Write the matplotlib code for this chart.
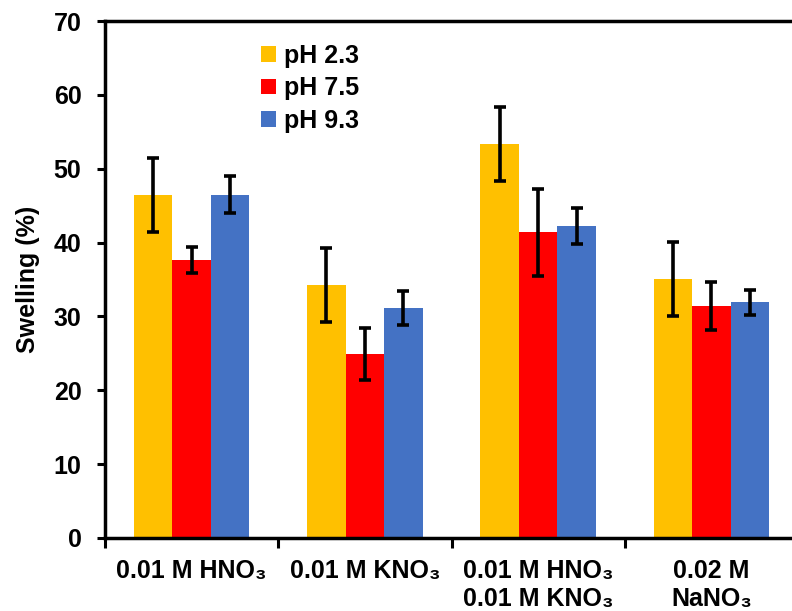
import matplotlib
matplotlib.use("Agg")
import matplotlib.pyplot as plt
import numpy as np

plt.rcParams['font.family'] = ['Liberation Sans', 'DejaVu Sans']
plt.rcParams['font.weight'] = 'bold'

categories = ["0.01 M HNO\u2083", "0.01 M KNO\u2083", "0.01 M HNO\u2083\n0.01 M KNO\u2083", "0.02 M\nNaNO\u2083"]
series = ["pH 2.3", "pH 7.5", "pH 9.3"]
ph23 = [46.4, 34.3, 53.4, 35.1]
ph75 = [37.6, 24.9, 41.4, 31.4]
ph93 = [46.5, 31.1, 42.2, 31.9]
err23 = [5.0, 5.0, 5.0, 5.0]
err75 = [1.75, 3.5, 5.9, 3.3]
err93 = [2.5, 2.3, 2.45, 1.7]
colors = ["#FFC000", "#FF0000", "#4472C4"]

fig = plt.figure(figsize=(7.92, 6.11), dpi=100)
ax = fig.add_axes([0.1326, 0.1195, 0.875, 0.846])

x = np.arange(len(categories))
w = 0.222
for i, (vals, errs) in enumerate([(ph23, err23), (ph75, err75), (ph93, err93)]):
    ax.bar(x + (i - 1) * w, vals, width=w, color=colors[i], label=series[i], zorder=2)
    ax.errorbar(x + (i - 1) * w, vals, yerr=errs, fmt='none', ecolor='black',
                elinewidth=2.6, capsize=4.5, capthick=2.6, zorder=3)

ax.set_xlim(-0.5, 3.5)
ax.set_ylim(0, 70)
ax.set_yticks(np.arange(0, 71, 10))
ax.set_xticks(x)
ax.set_xticklabels(categories, fontsize=18, fontweight='bold', linespacing=1.2)
ax.tick_params(axis='x', which='major', length=0, pad=15)
ax.set_xticks(np.arange(-0.5, 3.6, 1.0), minor=True)
ax.tick_params(axis='x', which='minor', length=7, width=2.2, direction='out')
ax.tick_params(axis='y', length=6, width=2.2, labelsize=18, pad=11)
for lab in ax.get_yticklabels():
    lab.set_fontweight('bold')
for s in ['left', 'bottom', 'top']:
    ax.spines[s].set_linewidth(2.5)
ax.spines['right'].set_visible(False)
ax.set_ylabel("Swelling (%)", fontsize=18, fontweight='bold', labelpad=10)

leg = ax.legend(loc='upper left', bbox_to_anchor=(0.192, 1.0), frameon=False,
                fontsize=18, handlelength=0.6, handleheight=0.6,
                handletextpad=0.35, labelspacing=0.35)
for t in leg.get_texts():
    t.set_fontweight('bold')

fig.savefig("out.png", dpi=100)
